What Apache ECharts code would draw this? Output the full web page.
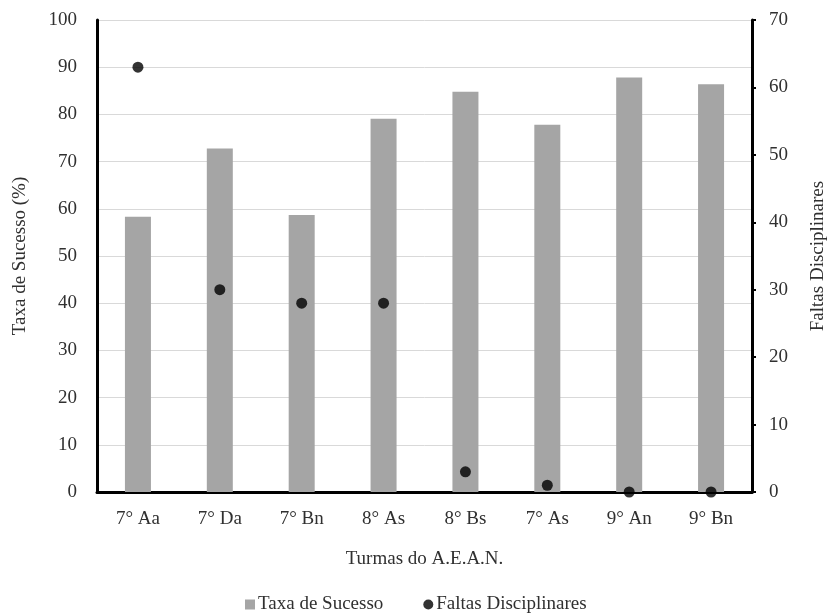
<!DOCTYPE html>
<html>
<head>
<meta charset="utf-8">
<script src="https://cdn.jsdelivr.net/npm/echarts@6/dist/echarts.min.js"></script>
<style>html,body{margin:0;padding:0;background:#fff}#c{width:836px;height:615px}</style>
</head>
<body>
<div id="c"></div>
<script>
const categories = ['7° Aa', '7° Da', '7° Bn', '8° As', '8° Bs', '7° As', '9° An', '9° Bn'];
const taxaSucesso = [58.3, 72.8, 58.7, 79.1, 84.8, 77.8, 87.8, 86.4];
const faltasDisciplinares = [63, 30, 28, 28, 3, 1, 0, 0];

const FONT = 'Liberation Serif';
const TXT = '#303030';
const FS = 19;
const chart = echarts.init(document.getElementById('c'), null, {renderer: 'canvas'});
chart.setOption({
  animation: false,
  backgroundColor: '#fff',
  textStyle: {fontFamily: FONT, color: TXT},
  grid: {left: 97, right: 76, top: 20, bottom: 123, containLabel: false},
  legend: {
    top: 590, left: 240, itemGap: 40, itemWidth: 10, itemHeight: 10,
    textStyle: {fontFamily: FONT, fontSize: FS, color: TXT, padding: [0, 0, 0, -2]},
    data: [
      {name: 'Taxa de Sucesso', icon: 'rect'},
      {name: 'Faltas Disciplinares', icon: 'circle'}
    ]
  },
  xAxis: {
    type: 'category', data: categories,
    name: 'Turmas do A.E.A.N.', nameLocation: 'middle', nameGap: 58,
    nameTextStyle: {fontFamily: FONT, fontSize: FS, color: TXT},
    axisLine: {lineStyle: {color: '#000', width: 3}},
    axisTick: {show: false},
    axisLabel: {fontFamily: FONT, fontSize: FS, color: TXT, margin: 18}
  },
  yAxis: [
    {
      type: 'value', min: 0, max: 100, interval: 10,
      name: 'Taxa de Sucesso (%)', nameLocation: 'middle', nameGap: 67, nameRotate: 90,
      nameTextStyle: {fontFamily: FONT, fontSize: FS, color: TXT},
      axisLine: {show: true, lineStyle: {color: '#000', width: 3}},
      axisTick: {show: false},
      axisLabel: {fontFamily: FONT, fontSize: FS, color: TXT, margin: 20},
      splitLine: {lineStyle: {color: '#d9d9d9', width: 1}}
    },
    {
      type: 'value', min: 0, max: 70, interval: 10, position: 'right',
      name: 'Faltas Disciplinares', nameLocation: 'middle', nameGap: 57, nameRotate: 90,
      nameTextStyle: {fontFamily: FONT, fontSize: FS, color: TXT},
      axisLine: {show: true, lineStyle: {color: '#000', width: 3}},
      axisTick: {show: true, inside: false, length: 4, lineStyle: {color: '#000', width: 2}},
      axisLabel: {fontFamily: FONT, fontSize: FS, color: TXT, margin: 17},
      splitLine: {show: false}
    }
  ],
  series: [
    {
      name: 'Taxa de Sucesso', type: 'bar', yAxisIndex: 0, data: taxaSucesso,
      barWidth: 26, itemStyle: {color: '#a5a5a5'}
    },
    {
      name: 'Faltas Disciplinares', type: 'scatter', yAxisIndex: 1, data: faltasDisciplinares,
      symbol: 'circle', symbolSize: 11, itemStyle: {color: '#000'}, z: 5
    }
  ]
});
</script>
</body>
</html>
